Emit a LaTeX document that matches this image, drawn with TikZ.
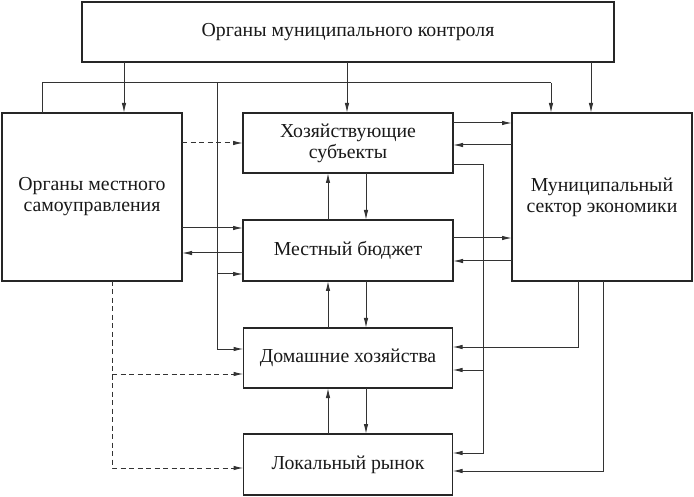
\documentclass[tikz,border=0pt]{standalone}
\usepackage{fontspec}
\setmainfont{Liberation Serif}
\usetikzlibrary{arrows.meta}
\begin{document}
\begin{tikzpicture}[x=1pt,y=-1pt,
  box/.style={draw=black!85,line width=1.3pt,inner sep=0pt,outer sep=0pt,align=center,
    font=\fontsize{19.8}{21}\selectfont,text=black!90},
  conn/.style={draw=black!80,line width=1pt},
  arr/.style={conn,-{Latex[length=10pt,width=4.5pt]}},
  darr/.style={arr,dash pattern=on 5pt off 3.5pt}]
\useasboundingbox[fill=white] (0,0) rectangle (694,497);
% boxes
\node[box,minimum width=532pt,minimum height=60pt] (top) at (348,32) {Органы муниципального контроля};
\node[box,minimum width=180pt,minimum height=168pt] (lsu) at (92,197) {Органы местного\\самоуправления};
\node[box,minimum width=180pt,minimum height=168pt] (mun) at (602,197) {Муниципальный\\сектор экономики};
\node[box,minimum width=210pt,minimum height=60pt] (hoz) at (348,143) {Хозяйствующие\\субъекты};
\node[box,minimum width=210pt,minimum height=61pt] (bud) at (348,250.5) {Местный бюджет};
\node[box,minimum width=209pt,minimum height=60pt] (dom) at (348,358) {Домашние хозяйства};
\node[box,minimum width=209pt,minimum height=61pt] (lok) at (348,464.5) {Локальный рынок};
% helper coordinates
\coordinate (xa) at (124,0);
\coordinate (xb) at (347,0);
\coordinate (xc) at (591,0);
\coordinate (jl) at (42,83);
\coordinate (jr) at (551,83);
\coordinate (jm) at (217,83);
\coordinate (jb) at (217,274);
\coordinate (jd) at (217,349);
\coordinate (d1) at (112,374);
\coordinate (d2) at (112,468);
\coordinate (r1) at (0,228);
\coordinate (r2) at (0,253);
\coordinate (r3) at (0,123);
\coordinate (r4) at (0,145);
\coordinate (r5) at (0,238);
\coordinate (r6) at (0,261);
\coordinate (xu) at (328,0);
\coordinate (xd) at (366,0);
\coordinate (g1) at (483,165);
\coordinate (g2) at (483,370);
\coordinate (g3) at (483,453);
\coordinate (h1) at (578,347);
\coordinate (i1) at (603,471);
% from top box
\draw[arr] (top.south -| xa) -- (lsu.north -| xa);
\draw[arr] (top.south -| xb) -- (hoz.north -| xb);
\draw[arr] (top.south -| xc) -- (mun.north -| xc);
% line from local self-government
\draw[conn] (lsu.north -| jl) -- (jl) -- (jr);
\draw[arr] (jr) -- (mun.north -| jr);
\draw[arr] (jm) -- (jd) -- (dom.west |- jd);
\draw[arr] (jb) -- (bud.west |- jb);
% dashed
\draw[darr] (lsu.east |- hoz.west) -- (hoz.west);
\draw[darr] (lsu.south -| d2) -- (d2) -- (lok.west |- d2);
\draw[darr] (d1) -- (dom.west |- d1);
% lsu <-> budget
\draw[arr] (lsu.east |- r1) -- (bud.west |- r1);
\draw[arr] (bud.west |- r2) -- (lsu.east |- r2);
% hoz <-> mun, bud <-> mun
\draw[arr] (hoz.east |- r3) -- (mun.west |- r3);
\draw[arr] (mun.west |- r4) -- (hoz.east |- r4);
\draw[arr] (bud.east |- r5) -- (mun.west |- r5);
\draw[arr] (mun.west |- r6) -- (bud.east |- r6);
% vertical pairs
\draw[arr] (bud.north -| xu) -- (hoz.south -| xu);
\draw[arr] (hoz.south -| xd) -- (bud.north -| xd);
\draw[arr] (dom.north -| xu) -- (bud.south -| xu);
\draw[arr] (bud.south -| xd) -- (dom.north -| xd);
\draw[arr] (lok.north -| xu) -- (dom.south -| xu);
\draw[arr] (dom.south -| xd) -- (lok.north -| xd);
% right side lines
\draw[arr] (hoz.east |- g1) -- (g1) -- (g3) -- (lok.east |- g3);
\draw[arr] (g2) -- (dom.east |- g2);
\draw[arr] (mun.south -| h1) -- (h1) -- (dom.east |- h1);
\draw[arr] (mun.south -| i1) -- (i1) -- (lok.east |- i1);
\end{tikzpicture}
\end{document}
